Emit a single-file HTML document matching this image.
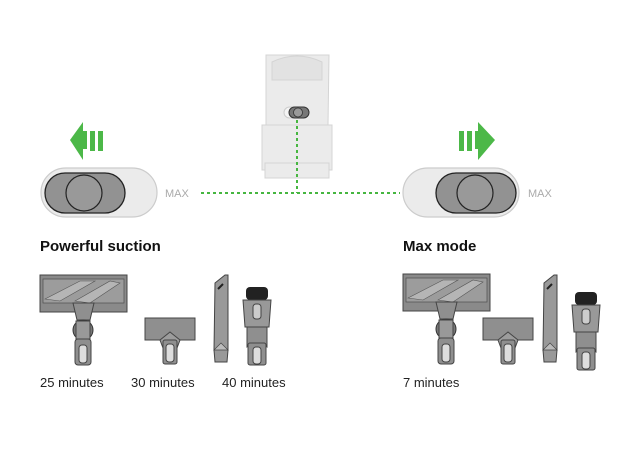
<!DOCTYPE html>
<html><head><meta charset="utf-8"><style>
html,body{margin:0;padding:0;background:#fff;width:631px;height:449px;overflow:hidden}
svg{display:block}
</style></head><body>
<svg width="631" height="449" viewBox="0 0 631 449" xmlns="http://www.w3.org/2000/svg">
<defs>
 <g id="bighead">
  <rect x="0" y="0" width="87" height="37" fill="#8a8a8a" stroke="#444" stroke-width="1"/>
  <rect x="3" y="4" width="81" height="24" fill="#9c9c9c" stroke="#555" stroke-width="0.8"/>
  <path d="M5 24 L40 6 L55 6 L20 26Z M35 26 L70 6 L80 8 L50 28Z" fill="#b5b5b5" stroke="#555" stroke-width="0.6"/>
  <path d="M33 28 L54 28 L50 45 L37 45Z" fill="#8f8f8f" stroke="#444"/>
  <circle cx="43" cy="55" r="10" fill="#777" stroke="#333"/>
  <rect x="36" y="46" width="14" height="18" fill="#999" stroke="#444"/>
  <rect x="35" y="64" width="16" height="26" rx="3" fill="#8f8f8f" stroke="#444"/>
  <rect x="39" y="70" width="8" height="18" rx="3" fill="#ddd" stroke="#444"/>
 </g>
 <g id="smallhead">
  <path d="M0 0 L50 0 L50 22 L0 22Z" fill="#8f8f8f" stroke="#444"/>
  <path d="M15 22 L25 14 L35 22 L32 30 L18 30Z" fill="#9c9c9c" stroke="#444"/>
  <rect x="18" y="22" width="14" height="24" rx="2" fill="#8f8f8f" stroke="#444"/>
  <rect x="21" y="26" width="8" height="18" rx="3" fill="#ddd" stroke="#444"/>
 </g>
 <g id="crevice">
  <path d="M2 8 L12 0 L15 0 L15 75 L14 87 L2 87 L1 75Z" fill="#999" stroke="#444"/>
  <path d="M5 14 L10 9" stroke="#222" stroke-width="2"/>
  <path d="M1 75 L15 75 L8 68Z" fill="#bbb" stroke="#444" stroke-width="0.7"/>
 </g>
 <g id="brush">
  <rect x="3" y="0" width="22" height="13" rx="4" fill="#222"/>
  <path d="M0 13 L28 13 L26 40 L2 40Z" fill="#999" stroke="#444"/>
  <rect x="10" y="17" width="8" height="15" rx="3" fill="#ccc" stroke="#444"/>
  <path d="M4 40 L24 40 L24 60 L18 56 L10 56 L4 60Z" fill="#8f8f8f" stroke="#444"/>
  <rect x="5" y="56" width="18" height="22" rx="2" fill="#8f8f8f" stroke="#444"/>
  <rect x="10" y="60" width="8" height="17" rx="3" fill="#ddd" stroke="#444"/>
 </g>
</defs>

<!-- vacuum body -->
<g fill="#ebebeb" stroke="#d4d4d4" stroke-width="1">
 <path d="M266 55 L329 55 L328 125 L266 125Z"/>
 <path d="M272 62 Q297 50 322 62 L322 80 L272 80Z" fill="#e2e2e2"/>
 <rect x="262" y="125" width="70" height="45"/>
 <rect x="265" y="163" width="64" height="15"/>
</g>
<rect x="284" y="107" width="14" height="11" rx="5.5" fill="#f4f4f4" stroke="#ccc"/>
<rect x="289" y="107" width="20" height="11" rx="5.5" fill="#777" stroke="#333"/>
<circle cx="298" cy="112.5" r="4.5" fill="#999" stroke="#333" stroke-width="0.8"/>

<!-- dotted lines -->
<g stroke="#46b640" stroke-width="2" stroke-dasharray="3 3" fill="none">
 <path d="M297 120 L297 193"/>
 <path d="M201 193 L400 193"/>
</g>

<!-- left arrow -->
<g fill="#4cb848">
 <path d="M70 140 L83 122 L83 160Z"/>
 <rect x="83" y="131" width="4" height="18"/>
 <rect x="90" y="131" width="5" height="20"/>
 <rect x="98" y="131" width="5" height="20"/>
</g>
<!-- right arrow -->
<g fill="#4cb848">
 <rect x="459" y="131" width="5" height="20"/>
 <rect x="467" y="131" width="5" height="20"/>
 <rect x="475" y="131" width="4" height="18"/>
 <path d="M478 122 L495 140 L478 160Z"/>
</g>

<!-- left switch -->
<rect x="41" y="168" width="116" height="49" rx="24.5" fill="#ebebeb" stroke="#ccc" stroke-width="1.2"/>
<rect x="45" y="173" width="80" height="40" rx="20" fill="#929292" stroke="#222" stroke-width="1.3"/>
<circle cx="84" cy="193" r="18" fill="#999" stroke="#222" stroke-width="1.2"/>
<text x="165" y="197" font-family="Liberation Sans, sans-serif" font-size="11" fill="#aaa">MAX</text>

<!-- right switch -->
<rect x="403" y="168" width="116" height="49" rx="24.5" fill="#ebebeb" stroke="#ccc" stroke-width="1.2"/>
<rect x="436" y="173" width="80" height="40" rx="20" fill="#929292" stroke="#222" stroke-width="1.3"/>
<circle cx="475" cy="193" r="18" fill="#999" stroke="#222" stroke-width="1.2"/>
<text x="528" y="197" font-family="Liberation Sans, sans-serif" font-size="11" fill="#aaa">MAX</text>

<!-- headings -->
<text x="40" y="251" font-family="Liberation Sans, sans-serif" font-size="15" font-weight="bold" fill="#111">Powerful suction</text>
<text x="403" y="251" font-family="Liberation Sans, sans-serif" font-size="15" font-weight="bold" fill="#111">Max mode</text>

<!-- tools left -->
<use href="#bighead" x="40" y="275"/>
<use href="#smallhead" x="145" y="318"/>
<use href="#crevice" x="213" y="275"/>
<use href="#brush" x="243" y="287"/>
<!-- tools right -->
<use href="#bighead" x="403" y="274"/>
<use href="#smallhead" x="483" y="318"/>
<use href="#crevice" x="542" y="275"/>
<use href="#brush" x="572" y="292"/>

<!-- labels -->
<g font-family="Liberation Sans, sans-serif" font-size="13" fill="#222">
 <text x="40" y="387">25 minutes</text>
 <text x="131" y="387">30 minutes</text>
 <text x="222" y="387">40 minutes</text>
 <text x="403" y="387">7 minutes</text>
</g>
</svg>
</body></html>
